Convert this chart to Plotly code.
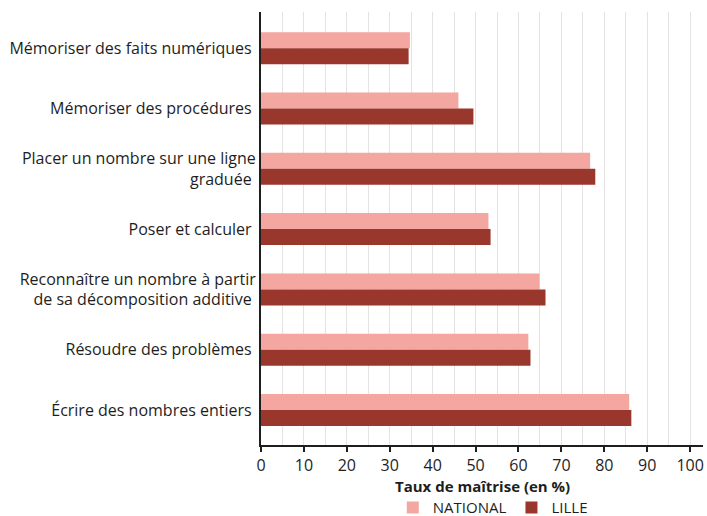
import plotly.graph_objects as go

categories = [
    "Mémoriser des faits numériques",
    "Mémoriser des procédures",
    "Placer un nombre sur une ligne<br>graduée",
    "Poser et calculer",
    "Reconnaître un nombre à partir<br>de sa décomposition additive",
    "Résoudre des problèmes",
    "Écrire des nombres entiers",
]
national = [34.7, 46.0, 76.7, 53.0, 64.9, 62.3, 85.8]
lille = [34.4, 49.5, 77.9, 53.5, 66.3, 62.8, 86.3]
x_ticks = list(range(0, 101, 10))

FONT = "'Open Sans', Lato, sans-serif"

fig = go.Figure()
fig.add_trace(go.Bar(y=categories, x=national, orientation="h", name="NATIONAL",
                     marker=dict(color="#F4A6A0", line=dict(width=0))))
fig.add_trace(go.Bar(y=categories, x=lille, orientation="h", name="LILLE",
                     marker=dict(color="#9A372D", line=dict(width=0))))

fig.update_layout(
    width=707, height=516,
    margin=dict(l=261, r=4, t=12, b=71, autoexpand=False),
    barmode="group", bargap=0.47, bargroupgap=0,
    plot_bgcolor="white", paper_bgcolor="white",
    font=dict(family=FONT, size=16, color="#1e1e1e"),
    legend=dict(orientation="h", x=0.697, xref="container", xanchor="center",
                y=0.016, yref="container", yanchor="middle",
                font=dict(size=15), itemwidth=30, tracegroupgap=0),
    xaxis=dict(
        range=[0, 103], tickvals=x_ticks, ticks="outside", ticklen=5, tickwidth=1.5,
        tickcolor="#1e1e1e", showgrid=True, gridcolor="#e3e3e3", gridwidth=1,
        minor=dict(dtick=5, showgrid=True, gridcolor="#e3e3e3", gridwidth=1),
        showline=True, linecolor="#1e1e1e", linewidth=2, zeroline=False,
        tickfont=dict(size=16), automargin=False,
    ),
    yaxis=dict(
        categoryorder="array", categoryarray=categories,
        range=[6.58, -0.6], showline=True, linecolor="#1e1e1e", linewidth=2,
        ticks="", ticksuffix=" ", showgrid=False, tickfont=dict(size=16),
        automargin=False,
    ),
    annotations=[dict(
        text="<b>Taux de maîtrise (en %)</b>", xref="paper", x=0.5, xanchor="center",
        yref="paper", y=-0.094, yanchor="middle", showarrow=False,
        font=dict(size=15),
    )],
)

fig.write_html(
    "out.html",
    config={"displayModeBar": False},
    post_script="document.body.style.margin='0';document.body.style.overflow='hidden';",
)
